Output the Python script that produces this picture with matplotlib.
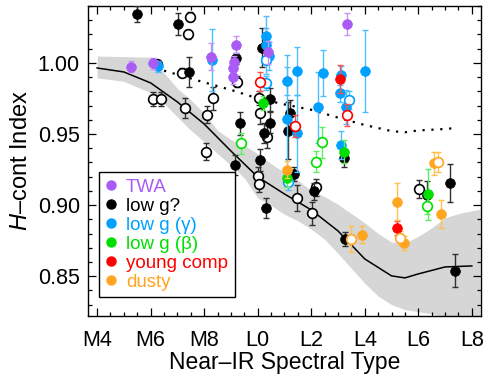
import matplotlib
matplotlib.use("Agg")
import matplotlib.pyplot as plt
from matplotlib.lines import Line2D
from matplotlib.ticker import MultipleLocator, FixedLocator

plt.rcParams['font.family'] = ['Liberation Sans', 'DejaVu Sans']
plt.rcParams['mathtext.fontset'] = 'custom'
plt.rcParams['mathtext.rm'] = 'Liberation Sans'
plt.rcParams['mathtext.it'] = 'Liberation Sans:italic'

# ---------------- data ----------------
# sequence line (median) and band
seq_sp = [4, 5, 6, 7, 8, 9, 10, 11, 12, 13, 14, 15, 15.5, 16, 17, 18]
seq_h = [0.9964, 0.9936, 0.9859, 0.9725, 0.957, 0.938, 0.9198, 0.9078, 0.8966,
         0.8818, 0.8621, 0.8502, 0.8488, 0.8516, 0.8565, 0.8572]

band_sp = [4, 5, 6, 6.5, 7, 7.5, 8, 8.5, 9, 9.5, 10, 10.5, 11, 11.5, 12, 12.5, 13,
           13.5, 14, 14.5, 15, 15.5, 16, 16.5, 17, 17.5, 18, 18.3]
band_hi = [1.0048, 1.0044, 1.004, 0.993, 0.982, 0.974, 0.9645, 0.9525, 0.946, 0.942,
           0.936, 0.929, 0.923, 0.9175, 0.910, 0.906, 0.9005, 0.894, 0.8875, 0.880,
           0.874, 0.8735, 0.878, 0.884, 0.891, 0.894, 0.896, 0.897]
band_lo = [0.9895, 0.987, 0.979, 0.9715, 0.962, 0.9526, 0.9445, 0.9362, 0.928, 0.919,
           0.905, 0.8998, 0.8935, 0.889, 0.883, 0.876, 0.866, 0.8555, 0.845, 0.836,
           0.830, 0.8265, 0.825, 0.8235, 0.821, 0.817, 0.812, 0.810]

dot_sp = [6.5, 7, 8, 9, 10, 11, 12, 13, 14, 15, 15.5, 16, 17, 17.4]
dot_h = [0.9945, 0.9918, 0.9863, 0.981, 0.975, 0.9708, 0.967, 0.9615, 0.9563,
         0.952, 0.9512, 0.9525, 0.9535, 0.9542]

# TWA (purple, filled)
twa_sp = [5.27, 6.09, 8.24, 9.06, 9.18, 9.11, 9.08, 10.40, 13.33]
twa_h = [0.9973, 0.9997, 1.0044, 0.9899, 1.0126, 1.0008, 0.9962, 1.0075, 1.0273]
twa_err = [0.004, 0.004, 0.0095, 0.005, 0.006, 0.004, 0.004, 0.008, 0.008]

# low g? (black, filled)
lowg_sp = [5.49, 7.01, 7.43, 9.18, 9.33, 9.14, 10.07, 10.30, 10.45, 10.23, 10.45,
           10.17, 11.21, 11.13, 11.34, 12.09, 13.23, 13.27, 16.33, 17.17, 17.36]
lowg_h = [1.0344, 1.0273, 0.9938, 1.0032, 0.9575, 0.9282, 0.9317, 0.8978, 0.958,
          0.951, 0.9744, 1.0108, 0.9646, 0.9523, 0.9217, 0.9097, 0.9329, 0.8762,
          0.9071, 0.9154, 0.8539]
lowg_err = [0.0056, 0.008, 0.0105, 0.004, 0.008, 0.007, 0.008, 0.007, 0.0075,
            0.007, 0.008, 0.014, 0.009, 0.02, 0.005, 0.006, 0.006, 0.005, 0.01,
            0.0135, 0.0115]

# field comparison objects (open black)
fld_sp = [7.47, 7.41, 6.25, 7.16, 6.09, 6.38, 7.29, 8.09, 8.32, 8.05, 9.21, 10.01,
          10.05, 11.48, 12.03, 12.18, 10.36, 10.05, 10.10, 16.02]
fld_h = [1.0325, 1.020, 0.999, 0.9931, 0.9744, 0.9744, 0.968, 0.9634, 0.9751, 0.9376,
         0.9868, 0.9205, 0.9149, 0.9048, 0.8943, 0.9126, 0.9481, 0.9751, 0.965, 0.9113]
fld_err = [0.003, 0.003, 0.003, 0.003, 0.005, 0.005, 0.007, 0.006, 0.008, 0.006,
           0.004, 0.006, 0.006, 0.009, 0.008, 0.006, 0.008, 0.005, 0.008, 0.006]

# low g (gamma) blue
gam_sp = [6.28, 8.28, 10.32, 10.32, 10.42, 11.10, 11.09, 11.46, 11.48, 12.45, 12.27,
          13.11, 13.07, 13.30, 14.00, 13.11]
gam_h = [0.9976, 1.002, 1.0189, 1.0126, 1.0049, 0.9873, 0.9603, 0.9945, 0.9505,
         0.9927, 0.9688, 0.9915, 0.9786, 0.9688, 0.9943, 0.9423]
gam_err = [0.004, 0.022, 0.014, 0.012, 0.010, 0.010, 0.045, 0.017, 0.027, 0.016,
           0.025, 0.006, 0.006, 0.012, 0.029, 0.010]
gamo_sp = [10.32, 10.32, 11.13, 13.42]
gamo_h = [1.002, 0.9857, 0.9165, 0.9739]
gamo_err = [0.010, 0.005, 0.006, 0.006]

# low g (beta) green
bet_sp = [10.20, 11.09, 13.23, 16.37]
bet_h = [0.9716, 0.9189, 0.9376, 0.9076]
bet_err = [0.005, 0.006, 0.008, 0.018]
beto_sp = [9.37, 12.16, 12.40, 16.33]
beto_h = [0.9435, 0.9306, 0.9442, 0.8994]
beto_err = [0.0075, 0.0075, 0.011, 0.006]

# young companions red
yc_sp = [13.09, 15.22]
yc_h = [0.9885, 0.8841]
yc_err = [0.010, 0.005]
yco_sp = [10.07, 11.38, 13.32]
yco_h = [0.9868, 0.9556, 0.9634]
yco_err = [0.0065, 0.008, 0.008]

# dusty orange
du_sp = [11.09, 16.58, 15.22, 16.83, 15.46, 13.89]
du_h = [0.9247, 0.9294, 0.9025, 0.8938, 0.8732, 0.879]
du_err = [0.006, 0.008, 0.013, 0.010, 0.005, 0.006]
duo_sp = [16.74, 15.30, 13.48]
duo_h = [0.9301, 0.8767, 0.876]
duo_err = [0.007, 0.005, 0.009]

tick_pos = [4, 6, 8, 10, 12, 14, 16, 18]
tick_lab = ['M4', 'M6', 'M8', 'L0', 'L2', 'L4', 'L6', 'L8']

# ---------------- colours ----------------
C_TWA = '#A95CF5'
C_BLK = '#000000'
C_GAM = '#00A0FF'
C_BET = '#00E000'
C_RED = '#FF0000'
C_DUS = '#FFA520'
E_TWA = '#C893F8'
E_BLK = '#303030'
E_GAM = '#4DBDFF'
E_BET = '#60EE60'
E_RED = '#FF5050'
E_DUS = '#FFC04D'

fig = plt.figure(figsize=(4.91, 3.81), dpi=100)
ax = fig.add_axes([0.1798, 0.1706, 0.7992, 0.8137])

ax.fill_between(band_sp, band_lo, band_hi, color='#D6D6D6', lw=0, zorder=1)
ax.plot(seq_sp, seq_h, color='black', lw=1.1, zorder=2)
ax.plot(dot_sp, dot_h, color='black', lw=1.6, ls=(0, (1, 3)), zorder=2)

ms = 7.0


def pts(sp, h, err, col, ecol, open_=False, z=3):
    ax.errorbar(sp, h, yerr=err, fmt='none', ecolor=ecol, elinewidth=1.0,
                capsize=2.2, capthick=1.0, zorder=z)
    if open_:
        ax.plot(sp, h, 'o', ms=ms, mfc='white', mec=col, mew=1.2, ls='none', zorder=z + 0.5)
    else:
        ax.plot(sp, h, 'o', ms=ms, mfc=col, mec=col, mew=0.5, ls='none', zorder=z + 0.5)


pts(fld_sp, fld_h, fld_err, C_BLK, E_BLK, open_=True, z=3)
pts(lowg_sp, lowg_h, lowg_err, C_BLK, E_BLK, z=4)
pts(gam_sp, gam_h, gam_err, C_GAM, E_GAM, z=5)
pts(gamo_sp, gamo_h, gamo_err, C_GAM, E_GAM, open_=True, z=5)
pts(bet_sp, bet_h, bet_err, C_BET, E_BET, z=6)
pts(beto_sp, beto_h, beto_err, C_BET, E_BET, open_=True, z=6)
pts(yc_sp, yc_h, yc_err, C_RED, E_RED, z=7)
pts(yco_sp, yco_h, yco_err, C_RED, E_RED, open_=True, z=7)
pts(du_sp, du_h, du_err, C_DUS, E_DUS, z=7)
pts(duo_sp, duo_h, duo_err, C_DUS, E_DUS, open_=True, z=7)
pts(twa_sp, twa_h, twa_err, C_TWA, E_TWA, z=8)

ax.set_xlim(3.67, 18.33)
ax.set_ylim(0.822, 1.04)
ax.xaxis.set_major_locator(FixedLocator(tick_pos))
ax.set_xticklabels(tick_lab)
ax.xaxis.set_minor_locator(MultipleLocator(0.5))
ax.yaxis.set_major_locator(MultipleLocator(0.05))
ax.yaxis.set_minor_locator(MultipleLocator(0.01))
ax.yaxis.set_major_formatter(matplotlib.ticker.FormatStrFormatter('%.2f'))
ax.tick_params(which='both', direction='in', top=True, right=True, width=0.9,
               labelsize=15.5, pad=6)
ax.tick_params(axis='x', which='major', pad=10)
ax.tick_params(which='major', length=6)
ax.tick_params(which='minor', length=3)
for s in ax.spines.values():
    s.set_linewidth(1.0)

ax.set_xlabel('Near\u2013IR Spectral Type', fontsize=16.5, labelpad=0)
ax.set_ylabel('$H$\u2013cont Index', fontsize=17, labelpad=4)

labels = ['TWA', 'low g?', 'low g (\u03b3)', 'low g (\u03b2)', 'young comp', 'dusty']
cols = [C_TWA, C_BLK, C_GAM, C_BET, C_RED, C_DUS]
handles = [Line2D([], [], marker='o', ls='none', ms=6.5, mfc=c, mec=c) for c in cols]
leg = ax.legend(handles, labels, loc='lower left', bbox_to_anchor=(0.027, 0.061),
                borderaxespad=0, fontsize=13.5, handlelength=0.6, handletextpad=0.5,
                labelspacing=0.1, borderpad=0.35, fancybox=False, framealpha=1,
                edgecolor='black')
leg.get_frame().set_linewidth(1.0)
leg.set_zorder(20)
for t, c in zip(leg.get_texts(), cols):
    t.set_color(c)

fig.savefig('out.png', dpi=100)
